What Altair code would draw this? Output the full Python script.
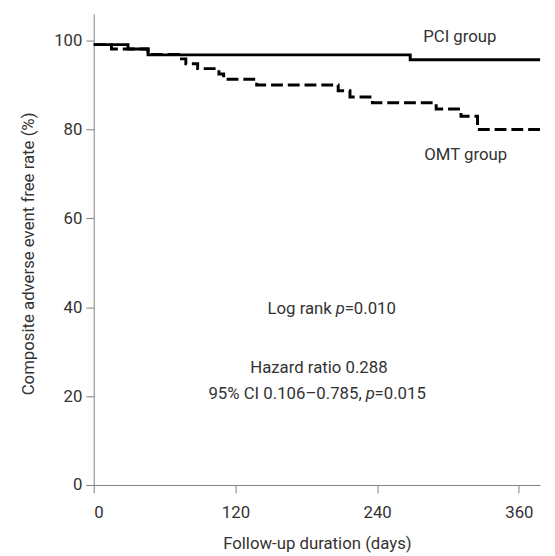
import altair as alt
import pandas as pd

# Kaplan-Meier step data (day, survival %)
pci_days = [0, 29, 46, 268, 378]
pci_surv = [99.1, 98.1, 96.8, 95.7, 95.7]

omt_days = [0, 15, 46, 72, 78, 88, 106, 110, 138, 207, 217, 236, 290, 311, 325, 378]
omt_surv = [99.1, 98.1, 96.9, 95.9, 94.8, 93.7, 92.5, 91.3, 90.0, 88.7, 87.3, 86.0, 84.6, 83.0, 80.0, 80.0]

x_ticks = [0, 120, 240, 360]
y_ticks = [0, 20, 40, 60, 80, 100]

FONT = "Roboto"
TXT = "#333333"
AX = "#808080"
FS = 17

pci = pd.DataFrame({"day": pci_days, "surv": pci_surv, "group": "PCI group"})
omt = pd.DataFrame({"day": omt_days, "surv": omt_surv, "group": "OMT group"})

xs = alt.Scale(domain=[0, 378], nice=False, zero=False)
ys = alt.Scale(domain=[0, 106], nice=False)

x_axis = alt.Axis(values=x_ticks, grid=False, title="Follow-up duration (days)",
                  domainColor=AX, tickColor=AX, tickSize=8, labelPadding=12,
                  labelFont=FONT, labelFontSize=FS, labelColor=TXT,
                  titleFont=FONT, titleFontSize=FS, titleColor=TXT, titleFontWeight="normal",
                  titleBaseline="alphabetic", titleY=64)
y_axis = alt.Axis(values=y_ticks, grid=False, title="Composite adverse event free rate (%)",
                  domainColor=AX, tickColor=AX, tickSize=8, labelPadding=4,
                  labelFont=FONT, labelFontSize=FS, labelColor=TXT,
                  titleFont=FONT, titleFontSize=FS, titleColor=TXT, titleFontWeight="normal",
                  titleBaseline="alphabetic", titleX=-61, titleY=243, titleAngle=-90)

pci_line = alt.Chart(pci).mark_line(interpolate="step-after", color="black", strokeWidth=3).encode(
    x=alt.X("day:Q", scale=xs, axis=x_axis),
    y=alt.Y("surv:Q", scale=ys, axis=y_axis),
)
omt_line = alt.Chart(omt).mark_line(interpolate="step-after", color="black", strokeWidth=3,
                                    strokeDash=[12, 5]).encode(
    x=alt.X("day:Q", scale=xs),
    y=alt.Y("surv:Q", scale=ys),
)

# annotation text
center_text = ["PCI group", "OMT group", "Hazard ratio 0.288"]
center_x = [310, 315, 190.7]
center_y = [99.6, 73.2, 25.1]

right_text = ["Log rank", "95% CI 0.106\u20130.785,"]
italic_text = ["p", "p"]
tail_text = ["=0.010", "=0.015"]
anchor_x = [205, 230.3]
anchor_y = [38.4, 19.3]

cdf = pd.DataFrame({"x": center_x, "y": center_y, "t": center_text})
rdf = pd.DataFrame({"x": anchor_x, "y": anchor_y, "t": right_text})
idf = pd.DataFrame({"x": anchor_x, "y": anchor_y, "t": italic_text})
tdf = pd.DataFrame({"x": anchor_x, "y": anchor_y, "t": tail_text})

def txt(df, **kw):
    return alt.Chart(df).mark_text(font=FONT, fontSize=FS, color=TXT, baseline="alphabetic", **kw).encode(
        x=alt.X("x:Q", scale=xs), y=alt.Y("y:Q", scale=ys), text="t:N")

layers = [
    pci_line, omt_line,
    txt(cdf, align="center"),
    txt(rdf, align="right", dx=-4),
    txt(idf, align="left", fontStyle="italic"),
    txt(tdf, align="left", dx=9),
]

chart = alt.layer(*layers).properties(
    width=453, height=478,
    autosize=alt.AutoSizeParams(type="none"),
    padding={"left": 87, "top": 2, "right": 7, "bottom": 68},
).configure_view(stroke=None)

chart.save("out.html", embed_options={"renderer": "svg", "actions": False})
